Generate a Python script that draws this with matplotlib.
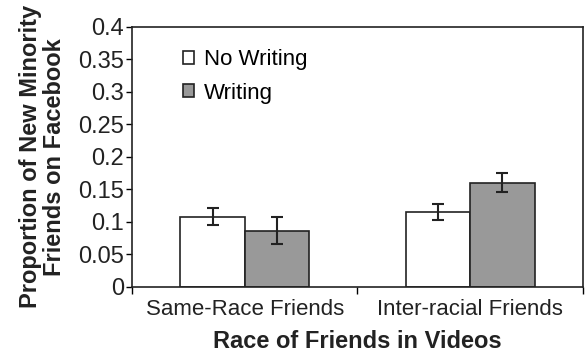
import matplotlib.pyplot as plt
import numpy as np

plt.rcParams['font.family'] = ['Liberation Sans', 'DejaVu Sans']

categories = ["Same-Race Friends", "Inter-racial Friends"]
no_writing = [0.108, 0.115]
no_writing_err = [0.0135, 0.0117]
writing = [0.086, 0.160]
writing_err = [0.021, 0.015]
y_ticks = [0, 0.05, 0.1, 0.15, 0.2, 0.25, 0.3, 0.35, 0.4]
y_tick_labels = ["0", "0.05", "0.1", "0.15", "0.2", "0.25", "0.3", "0.35", "0.4"]


def main() -> None:
    fig = plt.figure(figsize=(5.85, 3.54), dpi=100)
    ax = fig.add_axes([0.2256, 0.19, 0.771, 0.7346])

    centers = np.arange(len(categories)) + 0.5
    width = 0.285
    err_kw = dict(ecolor='#222222', elinewidth=1.5, capsize=4, capthick=1.5)

    ax.bar(centers - width / 2, no_writing, width, yerr=no_writing_err,
           color='white', edgecolor='#222222', linewidth=1.2,
           label='No Writing', error_kw=err_kw, zorder=2)
    ax.bar(centers + width / 2, writing, width, yerr=writing_err,
           color='#999999', edgecolor='#222222', linewidth=1.2,
           label='Writing', error_kw=err_kw, zorder=2)

    ax.set_xlim(0, len(categories))
    ax.set_ylim(0, 0.4)
    ax.set_yticks(y_ticks)
    ax.set_yticklabels(y_tick_labels, fontsize=17, color='#222222')

    ax.set_xticks(np.arange(len(categories) + 1))
    ax.set_xticklabels([])
    ax.set_xticks(centers, minor=True)
    ax.set_xticklabels(categories, minor=True, fontsize=16, color='#222222')
    ax.tick_params(axis='x', which='major', direction='out', length=5, width=1)
    ax.tick_params(axis='x', which='minor', length=0, pad=9)
    ax.tick_params(axis='y', direction='out', length=4.5, width=1, pad=1)

    for spine in ax.spines.values():
        spine.set_linewidth(1.2)
        spine.set_color('#222222')

    ax.set_xlabel('Race of Friends in Videos', fontsize=17, fontweight='bold',
                  labelpad=7, color='#222222')
    ax.set_ylabel('Proportion of New Minority\nFriends on Facebook', fontsize=17,
                  fontweight='bold', labelpad=9, linespacing=1.05, color='#222222')

    ax.legend(loc='upper left', bbox_to_anchor=(0.093, 0.947), frameon=False,
              fontsize=16, handlelength=0.5, handleheight=0.5,
              handletextpad=0.45, labelspacing=0.55, borderaxespad=0)

    fig.savefig('out.png', dpi=100)


if __name__ == "__main__":
    main()
